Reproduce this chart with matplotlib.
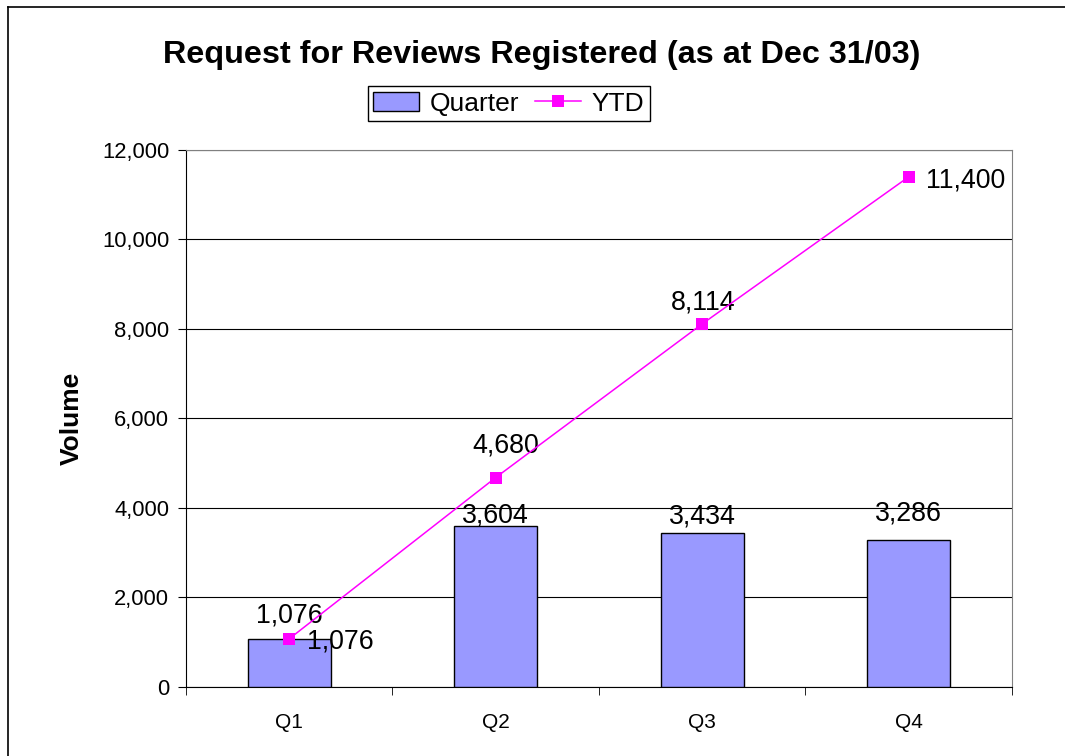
import numpy as np
import matplotlib.pyplot as plt
from matplotlib.lines import Line2D

plt.rcParams['font.family'] = ['Liberation Sans', 'DejaVu Sans']

# chart data
quarters = ['Q1', 'Q2', 'Q3', 'Q4']
quarter_volume = [1076, 3604, 3434, 3286]
ytd_volume = [1076, 4680, 8114, 11400]

fig = plt.figure(figsize=(10.65, 7.56), dpi=100)
ax = fig.add_axes([0.1746, 0.0913, 0.7756, 0.7103])

x = np.arange(len(quarters))
bars = ax.bar(x, quarter_volume, width=0.4, color='#9999FF', edgecolor='black',
              linewidth=1, label='Quarter', zorder=3)
line, = ax.plot(x, ytd_volume, color='#FF00FF', linewidth=1.1, marker='s',
                markersize=8, markeredgewidth=0, label='YTD', zorder=4)

# value labels for bars (pixel offsets, Excel moved some by hand)
bar_label_dy = [16, 3, 10, 19]
for xi, v, dy in zip(x, quarter_volume, bar_label_dy):
    ax.annotate(f'{v:,}', (xi, v), xytext=(0, dy), textcoords='offset pixels',
                ha='center', va='baseline', fontsize=19.3)

# value labels for YTD line
ytd_offsets = [(18, -10, 'left'), (10, 25, 'center'),
               (1, 14, 'center'), (17, -11, 'left')]
for xi, v, (dx, dy, ha) in zip(x, ytd_volume, ytd_offsets):
    ax.annotate(f'{v:,}', (xi, v), xytext=(dx, dy), textcoords='offset pixels',
                ha=ha, va='baseline', fontsize=19.3)

ax.set_xlim(-0.5, 3.5)
ax.set_ylim(0, 12000)
ax.set_yticks(range(0, 12001, 2000))
ax.set_yticklabels([f'{t:,}' for t in range(0, 12001, 2000)], fontsize=15.8)
ax.set_xticks(x)
ax.set_xticklabels(quarters, fontsize=15)
ax.set_xticks([-0.5, 0.5, 1.5, 2.5, 3.5], minor=True)
ax.tick_params(axis='x', which='major', length=0, pad=19)
ax.tick_params(axis='x', which='minor', length=6, direction='out', color='black')
ax.tick_params(axis='y', length=6, direction='out', color='black', pad=6)

ax.yaxis.grid(True, color='black', linewidth=0.8, zorder=0)
ax.set_axisbelow(True)
ax.spines['top'].set_color('#808080')
ax.spines['right'].set_color('#808080')

ax.set_ylabel('Volume', fontsize=19, fontweight='bold')
ax.yaxis.set_label_coords(-0.1234, 0.5)

fig.text(0.5085, 1 - 63 / 756, 'Request for Reviews Registered (as at Dec 31/03)',
         ha='center', va='baseline', fontsize=23.3, fontweight='bold')

leg = ax.legend(handles=[bars, line], loc='center', bbox_to_anchor=(0.4775, 0.863),
                bbox_transform=fig.transFigure, ncol=2, fontsize=19,
                frameon=True, fancybox=False, edgecolor='black', framealpha=1,
                handlelength=1.75, handletextpad=0.4, columnspacing=0.6,
                borderpad=0.2, borderaxespad=0)
leg.get_frame().set_linewidth(1)

# outer chart border (right and bottom fall outside the image)
fig.add_artist(Line2D([8 / 1065, 1.0], [1 - 7 / 756, 1 - 7 / 756], color='black', linewidth=1.2))
fig.add_artist(Line2D([8 / 1065, 8 / 1065], [0.0, 1 - 7 / 756], color='black', linewidth=1.2))

fig.savefig('out.png', dpi=100)
